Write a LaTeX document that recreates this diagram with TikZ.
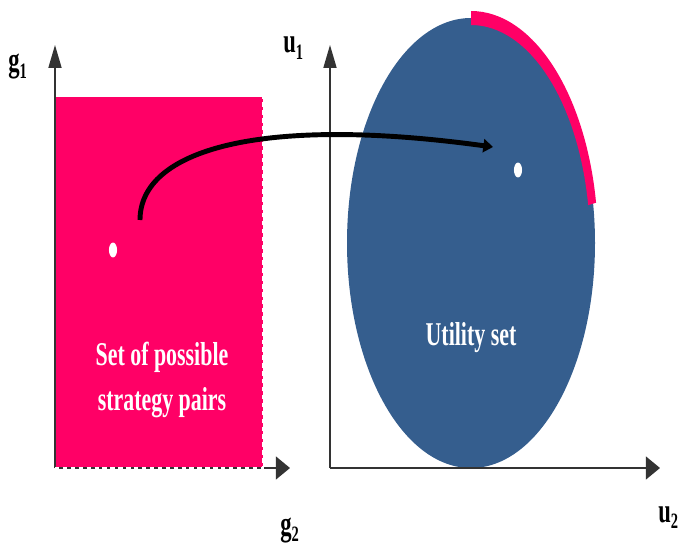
\documentclass[tikz,border=0pt]{standalone}
\usepackage{fontspec}
\usepackage{tikz}
\usetikzlibrary{arrows.meta,positioning,calc,shapes.geometric}
\newfontfamily\gtfont[FakeStretch=0.66]{Liberation Serif}
\newcommand{\gtsub}[1]{\raisebox{-3.6pt}{\fontsize{12.5}{12.5}\selectfont #1}}
\definecolor{setpink}{RGB}{255,0,102}
\definecolor{utilblue}{RGB}{53,94,142}
\tikzset{
  gtvaxis/.style={-{Triangle[length=13pt,width=7.4pt]}, line width=0.85pt, draw=black!80},
  gthaxis/.style={-{Triangle[length=8pt,width=13pt]}, line width=0.85pt, draw=black!80},
  gtedge/.style={draw=white, dashed, dash pattern=on 2.5pt off 2pt, line width=0.9pt},
  gttext/.style={text=white, align=center, font=\gtfont\bfseries\fontsize{18.9}{25.6}\selectfont},
  gtlabel/.style={inner sep=0pt, anchor=base west, font=\gtfont\bfseries\fontsize{19.5}{22}\selectfont},
  gtdot/.style={ellipse, fill=white, inner sep=0pt, minimum width=4.6pt, minimum height=8.5pt},
  gtmap/.style={-{Triangle[length=5.5pt,width=7.5pt]}, line width=2.8pt}
}
\begin{document}
\begin{tikzpicture}[x=0.02cm, y=0.02cm]
  \useasboundingbox (0,0) rectangle (686,545);
  % strategy set
  \coordinate (gorigin) at (55,77);
  \coordinate (gtop) at (55,500);
  \coordinate (gright) at (290,77);
  \coordinate (setcorner) at (263,448);
  \fill[setpink] (gorigin) rectangle (setcorner);
  \draw[gtvaxis] (gorigin) -- (gtop);
  \draw[gthaxis] (gorigin) -- (gright);
  \draw[gtedge] (gorigin) -- (gorigin -| setcorner) -- (setcorner);
  % utility set
  \coordinate (uorigin) at (330,77);
  \coordinate (utop) at (330,500);
  \coordinate (uright) at (660,77);
  \coordinate (ucenter) at (471,302);
  \fill[utilblue] (ucenter) ellipse [x radius=124, y radius=225];
  \fill[setpink] ([shift={(90:127 and 232)}]ucenter)
    arc[start angle=90, end angle=10, x radius=127, y radius=232]
    -- ([shift={(10:119 and 218)}]ucenter)
    arc[start angle=10, end angle=90, x radius=119, y radius=218] -- cycle;
  \draw[gtvaxis] (uorigin) -- (utop);
  \draw[gthaxis] (uorigin) -- (uright);
  % points and mapping
  \node[gtdot] (sdot) at (113,295) {};
  \node[gtdot] (udot) at (518,375) {};
  \coordinate (mapstart) at (140,325);
  \coordinate (mapend) at (493,398);
  \draw[gtmap] (mapstart) .. controls (140,395) and (260,430) .. (mapend);
  % texts
  \node[gttext, anchor=base] (stratset) at (162,135) {Set of possible\\strategy pairs};
  \node[gttext, anchor=base] (utilset) at (471,200) {Utility set};
  \node[gtlabel] (g1) at (8,473) {g\gtsub{1}};
  \node[gtlabel] (u1) at (283,492) {u\gtsub{1}};
  \node[gtlabel] (g2) at (280,10) {g\gtsub{2}};
  \node[gtlabel] (u2) at (658,23) {u\gtsub{2}};
\end{tikzpicture}
\end{document}
